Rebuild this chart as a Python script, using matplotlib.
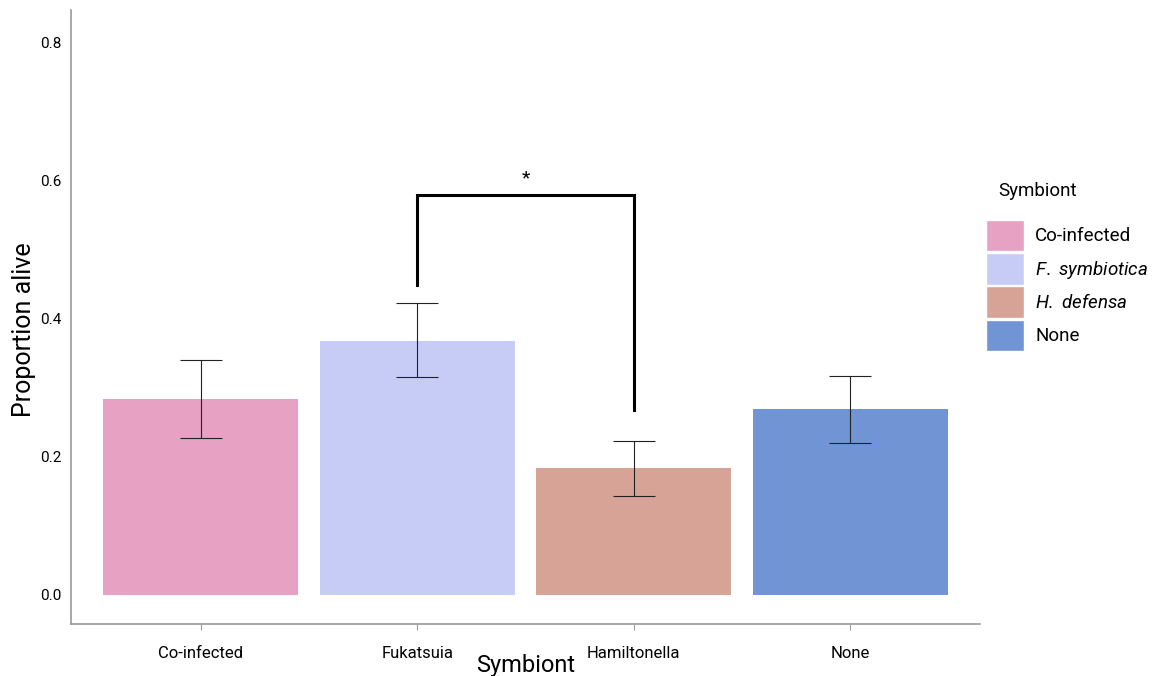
import matplotlib
matplotlib.use('Agg')
import matplotlib.pyplot as plt
from matplotlib.patches import Patch

plt.rcParams['font.family'] = ['Roboto', 'DejaVu Sans']
plt.rcParams['mathtext.fontset'] = 'custom'
plt.rcParams['mathtext.it'] = 'Roboto:italic'
plt.rcParams['mathtext.rm'] = 'Roboto'

symbionts = ['Co-infected', 'Fukatsuia', 'Hamiltonella', 'None']
legend_labels = ['Co-infected', '$\\it{F.\\ symbiotica}$', '$\\it{H.\\ defensa}$', 'None']
prop_alive = [0.284, 0.368, 0.184, 0.269]
err_low = [0.227, 0.315, 0.143, 0.220]
err_high = [0.340, 0.423, 0.223, 0.317]
colours = ['#E6A1C3', '#C6CCF6', '#D8A397', '#7094D4']

# significance bracket between Fukatsuia and Hamiltonella
sig_pair = (1, 2)
sig_top = 0.579
sig_feet = (0.449, 0.268)
sig_text = '*'

fig = plt.figure(figsize=(11.76, 6.76), dpi=100)
ax = fig.add_axes([71/1176, 52/676, 909/1176, 614/676])

x = range(len(symbionts))
ax.bar(x, prop_alive, width=0.9, color=colours)
yerr = [[p - lo for p, lo in zip(prop_alive, err_low)],
        [hi - p for p, hi in zip(prop_alive, err_high)]]
ax.errorbar(x, prop_alive, yerr=yerr, fmt='none', ecolor='#222222',
            elinewidth=0.8, capsize=15, capthick=0.8)

a, b = sig_pair
ax.plot([a, a, b, b], [sig_feet[0], sig_top, sig_top, sig_feet[1]],
        color='black', lw=2.2, solid_joinstyle='miter')
ax.text((a + b) / 2, sig_top + 0.012, sig_text, ha='center', va='bottom', fontsize=14)

ax.set_xlim(-0.6, 3.6)
ax.set_ylim(-0.042, 0.847)
ax.set_xticks(list(x))
ax.set_xticklabels(symbionts, fontsize=12)
ax.set_yticks([0.0, 0.2, 0.4, 0.6, 0.8])
ax.set_yticklabels(['0.0', '0.2', '0.4', '0.6', '0.8'], fontsize=11)
ax.tick_params(axis='y', length=0, pad=7)
ax.tick_params(axis='x', length=4, color='#999999', pad=12)
ax.set_xlabel('Symbiont', fontsize=17, labelpad=-5)
ax.set_ylabel('Proportion alive', fontsize=18)
ax.yaxis.set_label_coords(-0.039, 0.48)

for side in ['top', 'right']:
    ax.spines[side].set_visible(False)
for side in ['left', 'bottom']:
    ax.spines[side].set_color('#999999')
    ax.spines[side].set_linewidth(1.2)

handles = [Patch(facecolor=c, edgecolor='white') for c in colours]
leg = fig.legend(handles, legend_labels, title='Symbiont', loc='upper left',
                 bbox_to_anchor=(977/1176, 1 - 173/676), frameon=False,
                 fontsize=13.5, title_fontsize=13.5, handlelength=2.0, handleheight=2.2,
                 labelspacing=0.1, handletextpad=0.6, borderpad=0)
leg._legend_box.align = 'left'
leg._legend_box.sep = 14
leg.get_title().set_position((12, 0))

fig.savefig('out.png', dpi=100)
